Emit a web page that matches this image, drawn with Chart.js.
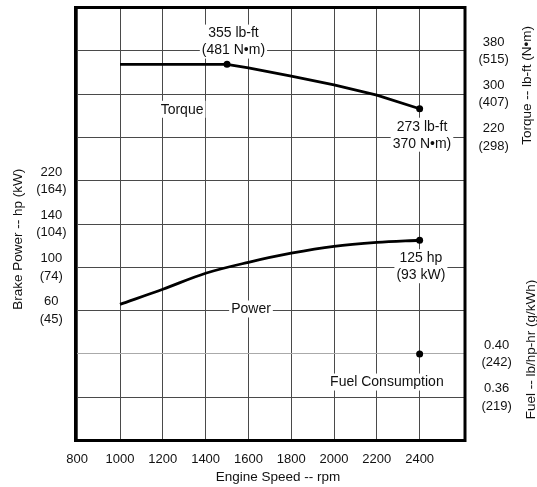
<!DOCTYPE html>
<html><head><meta charset="utf-8">
<script src="https://cdn.jsdelivr.net/npm/chart.js@4.4.1/dist/chart.umd.min.js"></script>
<style>html,body{margin:0;padding:0;background:#fff}#wrap{width:537px;height:487px;position:relative}</style>
</head><body><div id="wrap"><canvas id="c"></canvas></div>
<script>
// ---- data ----
const torqueRpm = [1000, 1200, 1400, 1500, 1600, 1800, 2000, 2200, 2400];
const torqueLbFt = [355, 355, 355, 355, 348.5, 333, 317, 298, 273];
const powerRpm = [1000, 1200, 1400, 1600, 1800, 2000, 2200, 2400];
const powerHp = [65.8, 79.7, 94.5, 104.6, 113, 119.4, 123, 125];
const fuelRpm = [2400];
const fuelLbHpHr = [0.40];
const markedTorqueRpm = [1500, 2400];
const markedPowerRpm = [2400];

const speedTicks = [800, 1000, 1200, 1400, 1600, 1800, 2000, 2200, 2400];
const powerTickValues = [60, 100, 140, 180];
const powerTickLabels = [['60', '(45)'], ['100', '(74)'], ['140', '(104)'], ['220', '(164)']];
const torqueTickValues = [380, 300, 220];
const torqueTickLabels = [['380', '(515)'], ['300', '(407)'], ['220', '(298)']];
const fuelTickValues = [0.40, 0.36];
const fuelTickLabels = [['0.40', '(242)'], ['0.36', '(219)']];

const notes = [
  {lines: ['355 lb-ft', '(481 N•m)'], rpm: 1530, value: 397, axis: 'yTorque'},
  {lines: ['Torque'], rpm: 1290, value: 272, axis: 'yTorque'},
  {lines: ['273 lb-ft', '370 N•m)'], rpm: 2411, value: 225, axis: 'yTorque'},
  {lines: ['125 hp', '(93 kW)'], rpm: 2406, value: 101, axis: 'yPow'},
  {lines: ['Power'], rpm: 1612, value: 61.5, axis: 'yPow'},
  {lines: ['Fuel Consumption'], rpm: 2247, value: 0.374, axis: 'yFuel'}
];
const sideTitles = [
  {axis: 'yTorque', text: 'Torque -- lb-ft (N•m)', inset: 10},
  {axis: 'yFuel', text: 'Fuel -- lb/hp-hr (g/kWh)', inset: 6}
];

// ---- styling ----
const FAMILY = "'Liberation Sans', Arial, Helvetica, sans-serif";
const font = {family: FAMILY, size: 13, lineHeight: 1.35};
const titleFont = {family: FAMILY, size: 13.5, lineHeight: 1.2};
Chart.defaults.font.family = FAMILY;
Chart.defaults.color = '#111';
const GRID = '#4a4a4a';

function noPad(s) { s.paddingTop = 0; s.paddingBottom = 0; s.paddingLeft = 0; s.paddingRight = 0; }
function fitW(w) { return s => { s.width = w; noPad(s); }; }
function fitH(h) { return s => { s.height = h; noPad(s); }; }

function blankAxis(extra) {
  return Object.assign({
    type: 'linear', display: true,
    grid: {display: false, drawTicks: false},
    border: {display: false},
    ticks: {display: false}
  }, extra);
}
function fixedTicks(values) {
  return (axis) => { axis.ticks = values.map(v => ({value: v})); };
}

const notesPlugin = {
  id: 'notes',
  beforeDatasetsDraw(chart) {
    const ctx = chart.ctx;
    const xs = chart.scales.x;
    ctx.save();
    ctx.font = '14px ' + FAMILY;
    ctx.textAlign = 'center';
    ctx.textBaseline = 'middle';
    const lh = 17;
    for (const n of notes) {
      const cx = xs.getPixelForValue(n.rpm);
      const cy = chart.scales[n.axis].getPixelForValue(n.value);
      const w = Math.max(...n.lines.map(l => ctx.measureText(l).width)) + 4;
      const h = n.lines.length * lh;
      ctx.fillStyle = '#fff';
      ctx.fillRect(cx - w / 2, cy - h / 2, w, h);
      ctx.fillStyle = '#111';
      n.lines.forEach((l, i) => {
        ctx.fillText(l, cx, cy - h / 2 + lh / 2 + i * lh + 0.5);
      });
    }
    // plot frame
    const a = chart.chartArea;
    ctx.strokeStyle = '#000';
    ctx.lineWidth = 3;
    ctx.strokeRect(a.left, a.top, a.right - a.left, a.bottom - a.top);
    ctx.restore();
  },
  afterDraw(chart) {
    const ctx = chart.ctx;
    ctx.save();
    ctx.font = '13.5px ' + FAMILY;
    ctx.fillStyle = '#111';
    ctx.textAlign = 'center';
    ctx.textBaseline = 'middle';
    for (const t of sideTitles) {
      const s = chart.scales[t.axis];
      ctx.save();
      ctx.translate(s.right - t.inset, (s.top + s.bottom) / 2);
      ctx.rotate(-Math.PI / 2);
      ctx.fillText(t.text, 0, 0);
      ctx.restore();
    }
    ctx.restore();
  }
};

const pointStyle = (marked) => ({
  pointRadius: c => (c.raw && marked.includes(c.raw.x)) ? 3.5 : 0,
  pointBackgroundColor: '#000',
  pointBorderColor: '#000',
  pointBorderWidth: 0,
  pointHoverRadius: 0
});

new Chart(document.getElementById('c'), {
  type: 'line',
  data: {
    datasets: [
      Object.assign({
        label: 'Torque',
        data: torqueRpm.map((x, i) => ({x, y: torqueLbFt[i]})),
        xAxisID: 'x', yAxisID: 'yTorque',
        borderColor: '#000', borderWidth: 2.8, tension: 0, fill: false
      }, pointStyle(markedTorqueRpm)),
      Object.assign({
        label: 'Power',
        data: powerRpm.map((x, i) => ({x, y: powerHp[i]})),
        xAxisID: 'x', yAxisID: 'yPow',
        borderColor: '#000', borderWidth: 2.8, cubicInterpolationMode: 'monotone', fill: false
      }, pointStyle(markedPowerRpm)),
      Object.assign({
        label: 'Fuel Consumption',
        data: fuelRpm.map((x, i) => ({x, y: fuelLbHpHr[i]})),
        xAxisID: 'x', yAxisID: 'yFuel',
        showLine: false
      }, pointStyle(fuelRpm))
    ]
  },
  options: {
    responsive: true,
    maintainAspectRatio: false,
    animation: false,
    events: [],
    layout: {padding: {left: 0, right: 0, top: 7.5, bottom: 0}},
    plugins: {legend: {display: false}, tooltip: {enabled: false}},
    scales: {
      x: {
        type: 'linear', position: 'bottom', min: 792, max: 2612,
        afterBuildTicks: fixedTicks(speedTicks),
        ticks: {callback: v => String(v), padding: 10, maxRotation: 0, autoSkip: false, font},
        grid: {color: GRID, lineWidth: 1, drawTicks: false},
        border: {display: false},
        afterFit: fitH(30)
      },
      xb: blankAxis({position: 'bottom', stack: 'B', stackWeight: 15.5, afterFit: fitH(16.5)}),
      xt: blankAxis({
        position: 'bottom', stack: 'B', stackWeight: 374,
        title: {display: true, text: 'Engine Speed -- rpm', font: titleFont, padding: {top: 0, bottom: 2}},
        afterFit: fitH(16.5)
      }),
      yg: {
        type: 'linear', position: 'left', min: 0, max: 10,
        ticks: {display: false, stepSize: 1},
        grid: {color: c => (c.tick && c.tick.value === 2) ? '#aaaaaa' : GRID, lineWidth: 1, drawTicks: false},
        border: {display: false},
        afterFit: fitW(0)
      },
      yPow: {
        type: 'linear', position: 'left', stack: 'L', stackWeight: 9.3, min: -60, max: 312,
        afterBuildTicks: fixedTicks(powerTickValues),
        ticks: {callback: (v, i) => powerTickLabels[i], crossAlign: 'center', padding: 9, autoSkip: false, font},
        grid: {display: false, drawTicks: false},
        border: {display: false},
        title: {display: true, text: 'Brake Power -- hp (kW)', font: titleFont, padding: {top: 10, bottom: 0}},
        afterFit: fitW(75.5)
      },
      yBlank: blankAxis({position: 'left', stack: 'L', stackWeight: 0.7, afterFit: fitW(75.5)}),
      yTorque: {
        type: 'linear', position: 'right', stack: 'R', stackWeight: 3.6, min: 172, max: 460,
        afterBuildTicks: fixedTicks(torqueTickValues),
        ticks: {callback: (v, i) => torqueTickLabels[i], crossAlign: 'center', padding: 13.5, autoSkip: false, font},
        grid: {display: false, drawTicks: false},
        border: {display: false},
        afterFit: fitW(72)
      },
      yMid: blankAxis({position: 'right', stack: 'R', stackWeight: 2.2, afterFit: fitW(72)}),
      yFuel: {
        type: 'linear', position: 'right', stack: 'R', stackWeight: 4.2, min: 0.32, max: 0.488,
        afterBuildTicks: fixedTicks(fuelTickValues),
        ticks: {callback: (v, i) => fuelTickLabels[i], crossAlign: 'center', padding: 16.5, autoSkip: false, font},
        grid: {display: false, drawTicks: false},
        border: {display: false},
        afterFit: fitW(72)
      }
    }
  },
  plugins: [notesPlugin]
});
</script>
</body></html>
